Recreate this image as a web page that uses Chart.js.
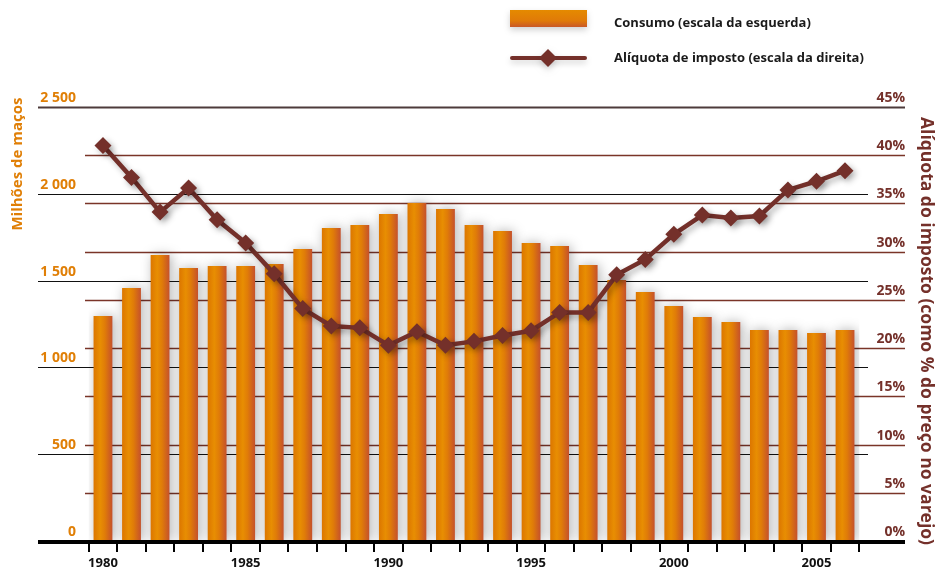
<!DOCTYPE html>
<html>
<head>
<meta charset="utf-8">
<script src="https://cdn.jsdelivr.net/npm/chart.js@4"></script>
<style>
  html, body { margin: 0; padding: 0; background: #fff; }
  #wrap { width: 935px; height: 570px; position: relative; }
</style>
</head>
<body>
<div id="wrap"><canvas id="grafico"></canvas></div>
<script>
// dati
const anni = ['1980','1981','1982','1983','1984','1985','1986','1987','1988','1989','1990','1991','1992','1993',
  '1994','1995','1996','1997','1998','1999','2000','2001','2002','2003','2004','2005','2006'];
const consumo = [1296, 1457, 1647, 1572, 1584, 1584, 1596, 1682, 1803, 1820, 1884, 1947, 1912, 1820,
  1786, 1717, 1699, 1590, 1503, 1434, 1354, 1290, 1261, 1215, 1215, 1198, 1215];
const aliquota = [41.0, 37.7, 34.1, 36.6, 33.3, 30.9, 27.7, 24.1, 22.3, 22.1, 20.3, 21.7, 20.3, 20.7,
  21.3, 21.8, 23.7, 23.7, 27.6, 29.2, 31.8, 33.8, 33.5, 33.7, 36.4, 37.3, 38.4];
const etichetteSx = ['0', '500', '1 000', '1 500', '2 000', '2 500'];
const etichetteDx = ['0%', '5%', '10%', '15%', '20%', '25%', '30%', '35%', '40%', '45%'];
const anniVisibili = ['1980', '1985', '1990', '1995', '2000', '2005'];

const ARANCIO = '#e07f06';
const MARRONE = '#74302a';
const FONT = '"Open Sans", sans-serif';
const BAR_PCT = 0.66;

function gradienteBarra(ctx) {
    const chart = ctx.chart;
    const sx = chart.scales.x;
    if (!chart.chartArea || !sx || ctx.dataIndex === undefined) return ARANCIO;
    const cx = sx.getPixelForValue(ctx.dataIndex);
    const w = (sx.width / anni.length) * BAR_PCT;
    const g = chart.ctx.createLinearGradient(cx - w / 2, 0, cx + w / 2, 0);
    g.addColorStop(0, '#dc7600');
    g.addColorStop(0.35, '#e88e02');
    g.addColorStop(0.6, '#e07c08');
    g.addColorStop(1, '#c5512c');
    return g;
}

// griglie, etichette e legenda disegnate a mano
const decorazioni = {
    id: 'decorazioni',
    beforeDatasetsDraw(chart) {
        const c = chart.ctx;
        const y = chart.scales.y, y1 = chart.scales.y1;
        c.save();
        // linee marroni (scala destra)
        y1.ticks.forEach(t => {
            const py = Math.round(y1.getPixelForValue(t.value)) + 0.5;
            if (t.value === 0 || t.value === 45) return;
            c.strokeStyle = '#7a3428';
            c.lineWidth = 1.3;
            c.beginPath(); c.moveTo(85, py); c.lineTo(905, py); c.stroke();
        });
        // linee nere (scala sinistra)
        y.ticks.forEach(t => {
            const py = Math.round(y.getPixelForValue(t.value)) + 0.5;
            if (t.value === 0) return;
            if (t.value === 2500) {
                c.strokeStyle = '#4d3b3b';
                c.lineWidth = 2;
                c.beginPath(); c.moveTo(38, py); c.lineTo(905, py); c.stroke();
                return;
            }
            c.strokeStyle = '#111';
            c.lineWidth = 1.2;
            c.beginPath(); c.moveTo(38, py); c.lineTo(868, py); c.stroke();
        });
        c.restore();
    },
    beforeDatasetDraw(chart, args) {
        const c = chart.ctx;
        c.save();
        if (args.meta.type === 'bar') {
            c.shadowColor = 'rgba(0,0,0,0.3)';
            c.shadowBlur = 12;
            c.shadowOffsetX = 2;
            c.shadowOffsetY = 0;
        } else {
            c.shadowColor = 'rgba(0,0,0,0.3)';
            c.shadowBlur = 6;
            c.shadowOffsetX = 3;
            c.shadowOffsetY = 3;
        }
    },
    afterDatasetDraw(chart) {
        chart.ctx.restore();
    },
    afterDraw(chart) {
        const c = chart.ctx;
        const y = chart.scales.y, y1 = chart.scales.y1, x = chart.scales.x;
        const base = y.getPixelForValue(0);
        c.save();
        // asse orizzontale
        c.fillStyle = '#000';
        c.fillRect(38, base - 1, 867, 4);
        for (let i = 0; i <= anni.length; i++) {
            const px = Math.round(x.getPixelForValue(i - 0.5));
            c.fillRect(px - 1, base + 2, 2, 9);
        }
        // anni
        c.font = 'bold 13px ' + FONT;
        c.textAlign = 'center';
        c.textBaseline = 'middle';
        c.fillStyle = '#111';
        anni.forEach((a, i) => {
            if (anniVisibili.includes(a)) c.fillText(a, x.getPixelForValue(i), base + 22);
        });
        // etichette sinistra
        c.font = 'bold 14px ' + FONT;
        c.textAlign = 'right';
        c.fillStyle = ARANCIO;
        y.ticks.forEach((t, i) => {
            c.fillText(etichetteSx[i], 76, y.getPixelForValue(t.value) - 9);
        });
        // etichette destra
        c.fillStyle = MARRONE;
        y1.ticks.forEach((t, i) => {
            c.fillText(etichetteDx[i], 905, y1.getPixelForValue(t.value) - 9);
        });
        // titoli assi
        c.textAlign = 'center';
        c.font = 'bold 15px ' + FONT;
        c.fillStyle = ARANCIO;
        c.save();
        c.translate(18, 164);
        c.rotate(-Math.PI / 2);
        c.fillText('Milhões de maços', 0, 0);
        c.restore();
        c.font = 'bold 17.5px ' + FONT;
        c.fillStyle = MARRONE;
        c.save();
        c.translate(926, 331);
        c.rotate(Math.PI / 2);
        c.fillText('Alíquota do imposto (como % do preço no varejo)', 0, 0);
        c.restore();
        // legenda
        const g = c.createLinearGradient(0, 10, 0, 28);
        g.addColorStop(0, '#e58a00');
        g.addColorStop(0.6, '#e07a08');
        g.addColorStop(1, '#c5522c');
        c.save();
        c.shadowColor = 'rgba(0,0,0,0.18)';
        c.shadowBlur = 6;
        c.shadowOffsetY = 3;
        c.fillStyle = g;
        c.fillRect(510, 10, 77, 17);
        c.strokeStyle = MARRONE;
        c.lineWidth = 4;
        c.lineCap = 'round';
        c.beginPath(); c.moveTo(512, 58); c.lineTo(585, 58); c.stroke();
        c.fillStyle = MARRONE;
        c.beginPath();
        c.moveTo(548, 49); c.lineTo(557, 58); c.lineTo(548, 67); c.lineTo(539, 58);
        c.closePath(); c.fill();
        c.restore();
        c.font = 'bold 13px ' + FONT;
        c.textAlign = 'left';
        c.fillStyle = '#1a1a1a';
        c.fillText('Consumo (escala da esquerda)', 614, 23);
        c.fillText('Alíquota de imposto (escala da direita)', 614, 58);
        c.restore();
    }
};

new Chart(document.getElementById('grafico'), {
    type: 'bar',
    data: {
        labels: anni,
        datasets: [
            {
                type: 'line',
                label: 'Alíquota de imposto (escala da direita)',
                data: aliquota,
                yAxisID: 'y1',
                borderColor: MARRONE,
                borderWidth: 4.5,
                pointStyle: 'rectRot',
                pointRadius: 8.5,
                pointBackgroundColor: MARRONE,
                pointBorderWidth: 0,
                tension: 0,
                order: 0
            },
            {
                label: 'Consumo (escala da esquerda)',
                data: consumo,
                yAxisID: 'y',
                backgroundColor: gradienteBarra,
                barPercentage: BAR_PCT,
                categoryPercentage: 1,
                order: 1
            }
        ]
    },
    options: {
        responsive: true,
        maintainAspectRatio: false,
        animation: false,
        layout: { padding: { left: 88.7, right: 75.7, top: 107, bottom: 29 } },
        plugins: { legend: { display: false }, tooltip: { enabled: false } },
        scales: {
            x: { display: false, offset: true },
            y: { display: false, min: 0, max: 2500, ticks: { stepSize: 500 } },
            y1: { display: false, position: 'right', min: 0, max: 45, ticks: { stepSize: 5 } }
        }
    },
    plugins: [decorazioni]
});
</script>
</body>
</html>
